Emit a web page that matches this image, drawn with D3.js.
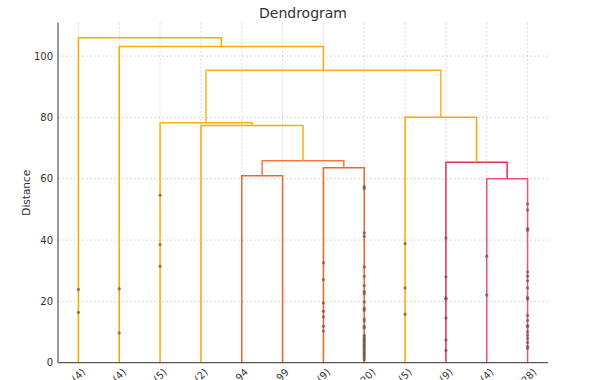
<!DOCTYPE html>
<html>
<head>
<meta charset="utf-8">
<script src="https://cdn.jsdelivr.net/npm/d3@7"></script>
<style>
  html, body { margin: 0; padding: 0; background: #fff; }
  svg { display: block; font-family: "DejaVu Sans", sans-serif; }
</style>
</head>
<body>
<svg id="chart" width="590" height="380"></svg>
<script>
// ---- Data ----
const leafLabels = ["(4)", "(4)", "(5)", "(2)", "94", "99", "(9)", "(120)", "(5)", "(9)", "(4)", "(28)"];

// merges: [leftChildId, rightChildId] (leaf ids 0..11, merge ids start at 12)
const mergeChildren = [
  [4, 5], [6, 7], [12, 13], [3, 14], [2, 15],
  [10, 11], [9, 17], [8, 18], [16, 19], [1, 20], [0, 21]
];
const mergeHeights = [61.0, 63.6, 65.9, 77.4, 78.3, 60.0, 65.4, 80.1, 95.4, 103.1, 106.0];
const mergeColors = ["#f2622a", "#f2622a", "#f67a3c", "#ffa80a", "#ffae10",
                     "#f25573", "#ec2d52", "#ffaa00", "#ffb31a", "#ffa600", "#ffa600"];

// heights of merges hidden inside each truncated leaf cluster
const leafDots = [
  [23.9, 16.4],
  [24.1, 9.7],
  [54.6, 38.5, 31.5],
  [],
  [],
  [],
  [32.6, 27.1, 19.5, 16.8, 14.9, 11.9, 10.3],
  [57.4, 56.8, 42.3, 41.2, 31.2, 28.1, 25.1, 23.2, 22.5, 19.8, 17.8, 17.1, 14.3, 13.6, 11.9, 11.3,
   9.0, 8.4, 7.8, 7.3, 6.7, 6.1, 5.6, 5.0, 4.5, 3.9, 3.3, 2.8, 2.2, 1.6, 1.0],
  [38.8, 24.4, 15.8],
  [40.7, 28.0, 21.0, 20.8, 14.6, 7.4, 4.0],
  [34.7, 22.1],
  [51.8, 49.8, 43.7, 43.2, 29.6, 28.2, 26.7, 24.4, 21.2, 20.8, 15.4, 13.8, 12.1, 11.7, 10.1, 9.0, 7.9, 6.6, 5.3, 4.6]
];
const yTicks = [0, 20, 40, 60, 80, 100];

// ---- Layout ----
const svg = d3.select("#chart");
const mLeft = 58, mRight = 548, mTop = 22.7, mBottom = 362.7;
const x = d3.scaleLinear().domain([0, 10 * leafLabels.length]).range([mLeft, mRight]);
const y = d3.scaleLinear().domain([0, 110.9]).range([mBottom, mTop]);

// node positions (dendrogram coordinates)
const nodeX = leafLabels.map((_, i) => 5 + 10 * i);
const nodeY = leafLabels.map(() => 0);
mergeChildren.forEach(([a, b], k) => {
  nodeX.push((nodeX[a] + nodeX[b]) / 2);
  nodeY.push(mergeHeights[k]);
});

// grid
const grid = svg.append("g");
grid.selectAll("line.h").data(yTicks).join("line").attr("class", "h")
  .attr("x1", mLeft).attr("x2", mRight)
  .attr("y1", d => y(d)).attr("y2", d => y(d))
  .attr("stroke", "#cfcfcf").attr("stroke-width", 0.8).attr("stroke-dasharray", "2,2");
grid.selectAll("line.v").data(leafLabels.map((_, i) => 5 + 10 * i)).join("line").attr("class", "v")
  .attr("x1", d => x(d)).attr("x2", d => x(d))
  .attr("y1", mTop).attr("y2", mBottom)
  .attr("stroke", "#cfcfcf").attr("stroke-width", 0.8).attr("stroke-dasharray", "2,2");

// links
svg.append("g").selectAll("path").data(mergeChildren).join("path")
  .attr("fill", "none")
  .attr("stroke", (d, k) => mergeColors[k])
  .attr("stroke-width", 1.5)
  .attr("d", ([a, b], k) => {
    const h = y(mergeHeights[k]);
    return `M${x(nodeX[a])},${y(nodeY[a])}V${h}H${x(nodeX[b])}V${y(nodeY[b])}`;
  });

// dots
const dotData = [];
leafDots.forEach((arr, i) => arr.forEach(v => dotData.push([5 + 10 * i, v])));
svg.append("g").selectAll("circle").data(dotData).join("circle")
  .attr("cx", d => x(d[0])).attr("cy", d => y(d[1]))
  .attr("r", 1.7).attr("fill", "#555").attr("fill-opacity", 0.65);

// spines
svg.append("line").attr("x1", mLeft).attr("x2", mLeft).attr("y1", mTop).attr("y2", mBottom)
  .attr("stroke", "#333").attr("stroke-width", 1);
svg.append("line").attr("x1", mLeft).attr("x2", mRight).attr("y1", mBottom).attr("y2", mBottom)
  .attr("stroke", "#333").attr("stroke-width", 1);

// y tick labels
svg.append("g").selectAll("text").data(yTicks).join("text")
  .attr("x", mLeft - 5).attr("y", d => y(d)).attr("dy", "0.35em")
  .attr("text-anchor", "end").attr("font-size", 10).attr("fill", "#333")
  .text(d => d);

// x tick labels, rotated 45deg, bbox centered under tick
const xl = svg.append("g");
leafLabels.forEach((lab, i) => {
  const t = xl.append("text").attr("font-size", 10).attr("fill", "#333")
    .attr("text-anchor", "middle").attr("dominant-baseline", "central").text(lab);
  const w = t.node().getComputedTextLength();
  const s = (w + 10) / Math.SQRT2;
  t.attr("transform", `translate(${x(5 + 10 * i)},${mBottom + 4 + s / 2}) rotate(-45)`);
});

// title & axis label
svg.append("text").attr("x", (mLeft + mRight) / 2).attr("y", 17.5)
  .attr("text-anchor", "middle").attr("font-size", 14).attr("fill", "#333").text("Dendrogram");
svg.append("text").attr("transform", `translate(30,${(mTop + mBottom) / 2}) rotate(-90)`)
  .attr("text-anchor", "middle").attr("font-size", 10.5).attr("fill", "#333").text("Distance");
</script>
</body>
</html>
